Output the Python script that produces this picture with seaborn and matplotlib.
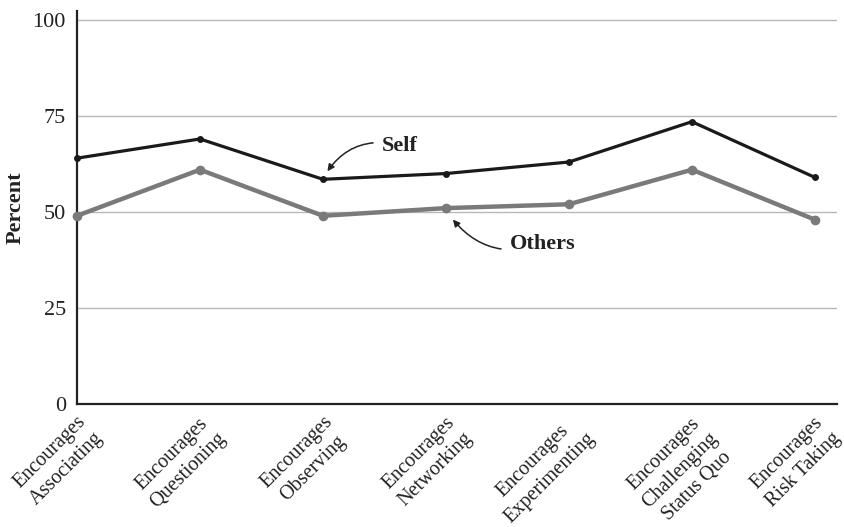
import matplotlib
matplotlib.use("Agg")
import matplotlib.pyplot as plt
import seaborn as sns
import pandas as pd

categories = ["Encourages\nAssociating", "Encourages\nQuestioning", "Encourages\nObserving",
              "Encourages\nNetworking", "Encourages\nExperimenting",
              "Encourages\nChallenging\nStatus Quo", "Encourages\nRisk Taking"]
self_vals = [64, 69, 58.5, 60, 63, 73.5, 59]
others_vals = [49, 61, 49, 51, 52, 61, 48]
y_ticks = [0, 25, 50, 75, 100]

sns.set_theme(style="white")
plt.rcParams['font.family'] = ['Liberation Serif', 'DejaVu Serif']

fig = plt.figure(figsize=(8.44, 5.27), dpi=100)
ax = fig.add_axes([0.0912, 0.2334, 0.9005, 0.7456])

x_idx = list(range(len(categories)))
df = pd.DataFrame({"x": x_idx * 2,
                   "y": self_vals + others_vals,
                   "series": ["Self"] * len(categories) + ["Others"] * len(categories)})

for yv in y_ticks[1:]:
    ax.axhline(yv, color="#b8b8b8", linewidth=1.0, zorder=0)

sns.lineplot(data=df[df.series == "Others"], x="x", y="y", color="#7a7a7a",
             linewidth=3.2, marker="o", markersize=7, markeredgewidth=0, ax=ax,
             zorder=3, clip_on=False)
sns.lineplot(data=df[df.series == "Self"], x="x", y="y", color="#1a1a1a",
             linewidth=2.3, marker="o", markersize=5, markeredgewidth=0, ax=ax,
             zorder=4, clip_on=False)

ax.set_xlim(0, 6.18)
ax.set_ylim(0, 102.3)
ax.set_yticks(y_ticks)
ax.set_yticklabels([str(v) for v in y_ticks], fontsize=16, color="#222222")
ax.set_xticks(x_idx)
ax.set_xticklabels(categories, rotation=45, ha="right", va="top",
                   rotation_mode="anchor", fontsize=14.5, color="#222222",
                   multialignment="center", linespacing=1.3)
ax.tick_params(axis="y", length=0, pad=8)
ax.tick_params(axis="x", direction="in", length=11, width=1, color="#222222", pad=6)

for s in ["top", "right"]:
    ax.spines[s].set_visible(False)
for s in ["left", "bottom"]:
    ax.spines[s].set_color("#222222")
    ax.spines[s].set_linewidth(1.6)

ax.set_xlabel("")
ax.set_ylabel("Percent", fontsize=16, fontweight="bold", color="#222222")
ax.yaxis.set_label_coords(-0.068, 0.5)

ax.annotate("Self", xy=(2.03, 60.3), xytext=(2.48, 67.3), fontsize=16, fontweight="bold",
            color="#222222", va="center", ha="left",
            arrowprops=dict(arrowstyle="-|>", color="#222222", lw=1.1,
                            connectionstyle="arc3,rad=0.35", shrinkA=4, shrinkB=1,
                            mutation_scale=10))
ax.annotate("Others", xy=(3.05, 48.3), xytext=(3.52, 41.6), fontsize=16, fontweight="bold",
            color="#222222", va="center", ha="left",
            arrowprops=dict(arrowstyle="-|>", color="#222222", lw=1.1,
                            connectionstyle="arc3,rad=-0.35", shrinkA=4, shrinkB=1,
                            mutation_scale=10))

fig.savefig("out.png", dpi=100)
